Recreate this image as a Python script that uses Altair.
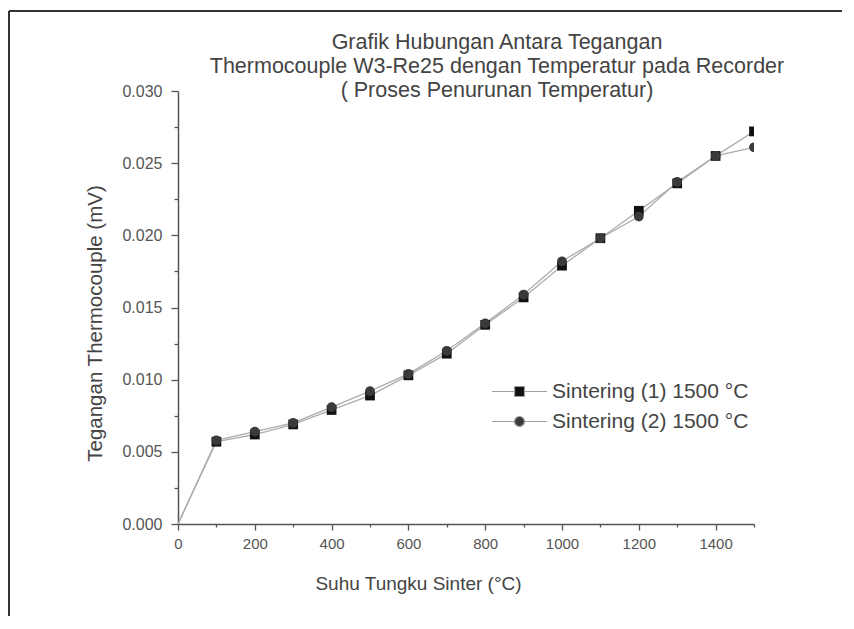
import altair as alt
import pandas as pd

# ---- data ----
temperature = [0, 100, 200, 300, 400, 500, 600, 700, 800, 900, 1000, 1100, 1200, 1300, 1400, 1500]
sintering_1 = [0.0, 0.0057, 0.0062, 0.0069, 0.0079, 0.0089, 0.0103, 0.0118, 0.0138, 0.0157,
               0.0179, 0.0198, 0.0217, 0.0236, 0.0255, 0.0272]
sintering_2 = [0.0, 0.0058, 0.0064, 0.0070, 0.0081, 0.0092, 0.0104, 0.0120, 0.0139, 0.0159,
               0.0182, 0.0198, 0.0213, 0.0237, 0.0255, 0.0261]
series_names = ["Sintering (1) 1500 \u00b0C", "Sintering (2) 1500 \u00b0C"]

x_tick_values = [0, 100, 200, 300, 400, 500, 600, 700, 800, 900, 1000, 1100, 1200, 1300, 1400, 1500]
y_tick_values = [0.0, 0.0025, 0.005, 0.0075, 0.01, 0.0125, 0.015, 0.0175, 0.02, 0.0225,
                 0.025, 0.0275, 0.03]

title_lines = ["Grafik Hubungan Antara Tegangan",
               "Thermocouple W3-Re25 dengan Temperatur pada Recorder",
               "( Proses Penurunan Temperatur)"]
x_title = "Suhu Tungku Sinter (\u00b0C)"
y_title = "Tegangan Thermocouple (mV)"

df = pd.DataFrame({
    "temp": temperature + temperature,
    "mv": sintering_1 + sintering_2,
    "series": [series_names[0]] * len(temperature) + [series_names[1]] * len(temperature),
})

FONT = "Liberation Sans, Arial, sans-serif"
AXIS_GREY = "#555555"
TEXT_GREY = "#444444"
MARKER_COLORS = ["#111111", "#3a3a3a"]
LINE_GREY = "#acacac"

x_enc = alt.X(
    "temp:Q",
    scale=alt.Scale(domain=[0, 1500], nice=False, zero=True),
    axis=alt.Axis(
        values=x_tick_values,
        title=x_title,
        format="d",
        labelExpr="datum.value % 200 === 0 ? datum.label : ''",
        tickSize={"condition": {"test": "datum.value % 200 !== 0", "value": 3}, "value": 6},
        labelPadding=6,
        labelFontSize=15,
        labelFlush=False,
        labelOverlap=False,
        titleFontSize=19,
        titleFontWeight="normal",
        titleX=240,
        titleY=59,
        titleAlign="center",
        titleBaseline="middle",
    ),
)
y_enc = alt.Y(
    "mv:Q",
    scale=alt.Scale(domain=[0, 0.03], nice=False, zero=True),
    axis=alt.Axis(
        values=y_tick_values,
        title=y_title,
        format=".3f",
        labelExpr="round(datum.value * 10000) % 50 === 0 ? datum.label : ''",
        tickSize={"condition": {"test": "round(datum.value * 10000) % 50 !== 0", "value": 4}, "value": 7},
        labelPadding=9,
        labelFontSize=16,
        labelFlush=False,
        labelOverlap=False,
        titleFontSize=20.5,
        titleFontWeight="normal",
        titleAngle=270,
        titleX=-83,
        titleY=232,
        titleAlign="center",
        titleBaseline="middle",
    ),
)

# outer frame of the original figure (decoration)
frame_top = alt.Chart().mark_rule(color="#333333", strokeWidth=2).encode(
    x=alt.value(-169), x2=alt.value(700), y=alt.value(-80)
)
frame_left = alt.Chart().mark_rule(color="#333333", strokeWidth=2).encode(
    x=alt.value(-169), y=alt.value(-80), y2=alt.value(560)
)

base = alt.Chart(df)

lines = base.mark_line(color=LINE_GREY, strokeWidth=1.3).encode(
    x=x_enc, y=y_enc, detail="series:N"
)

points = base.transform_filter("datum.temp > 0").mark_point(
    filled=True, opacity=1, clip=True
).encode(
    x=x_enc,
    y=y_enc,
    shape=alt.Shape("series:N", scale=alt.Scale(domain=series_names, range=["square", "circle"]), legend=None),
    color=alt.Color("series:N", scale=alt.Scale(domain=series_names, range=MARKER_COLORS), legend=None),
    size=alt.value(95),
)

sq_path = "M-5.5,0H-1M1,0H5.5M-1,-1H1V1H-1Z"
ci_path = "M-5.5,0H-1M1,0H5.5M1,0A1,1,0,1,1,-1,0A1,1,0,1,1,1,0Z"

legend_props = dict(
    orient="none",
    legendX=331,
    legendY=290,
    title=None,
    padding=0,
    rowPadding=8,
    labelOffset=22,
    labelLimit=400,
    labelFontSize=21,
    labelColor=TEXT_GREY,
    labelFont=FONT,
    symbolSize=100,
    symbolOpacity=1,
    symbolStrokeWidth=1.2,
)

legend_layer = base.transform_filter("datum.temp > 0").mark_point(
    filled=True, opacity=0
).encode(
    x=x_enc,
    y=y_enc,
    shape=alt.Shape("series:N", scale=alt.Scale(domain=series_names, range=[sq_path, ci_path]),
                    legend=alt.Legend(**legend_props)),
    fill=alt.Fill("series:N", scale=alt.Scale(domain=series_names, range=MARKER_COLORS),
                  legend=alt.Legend(**legend_props)),
    stroke=alt.Stroke("series:N", scale=alt.Scale(domain=series_names, range=["#a0a0a0", "#a0a0a0"]),
                      legend=alt.Legend(**legend_props)),
)

chart = alt.layer(frame_top, frame_left, lines, points, legend_layer).resolve_scale(
    shape="independent", color="independent", fill="independent", stroke="independent"
).properties(
    width=576,
    height=433,
    autosize=alt.AutoSizeParams(type="none"),
    padding={"left": 170, "top": 83, "right": 88, "bottom": 92},
    title=alt.TitleParams(
        text=title_lines,
        fontSize=21.5,
        font=FONT,
        fontWeight="normal",
        color=TEXT_GREY,
        lineHeight=24,
        anchor="middle",
        frame="group",
        dx=31,
        dy=83,
        offset=-8,
    ),
).configure_axis(
    grid=False,
    domainColor=AXIS_GREY,
    domainWidth=1.5,
    tickColor=AXIS_GREY,
    tickWidth=1.3,
    labelColor=AXIS_GREY,
    labelFont=FONT,
    titleFont=FONT,
    titleColor=TEXT_GREY,
).configure_view(stroke=None)

chart.save("out.html", embed_options={"renderer": "svg", "actions": False})
